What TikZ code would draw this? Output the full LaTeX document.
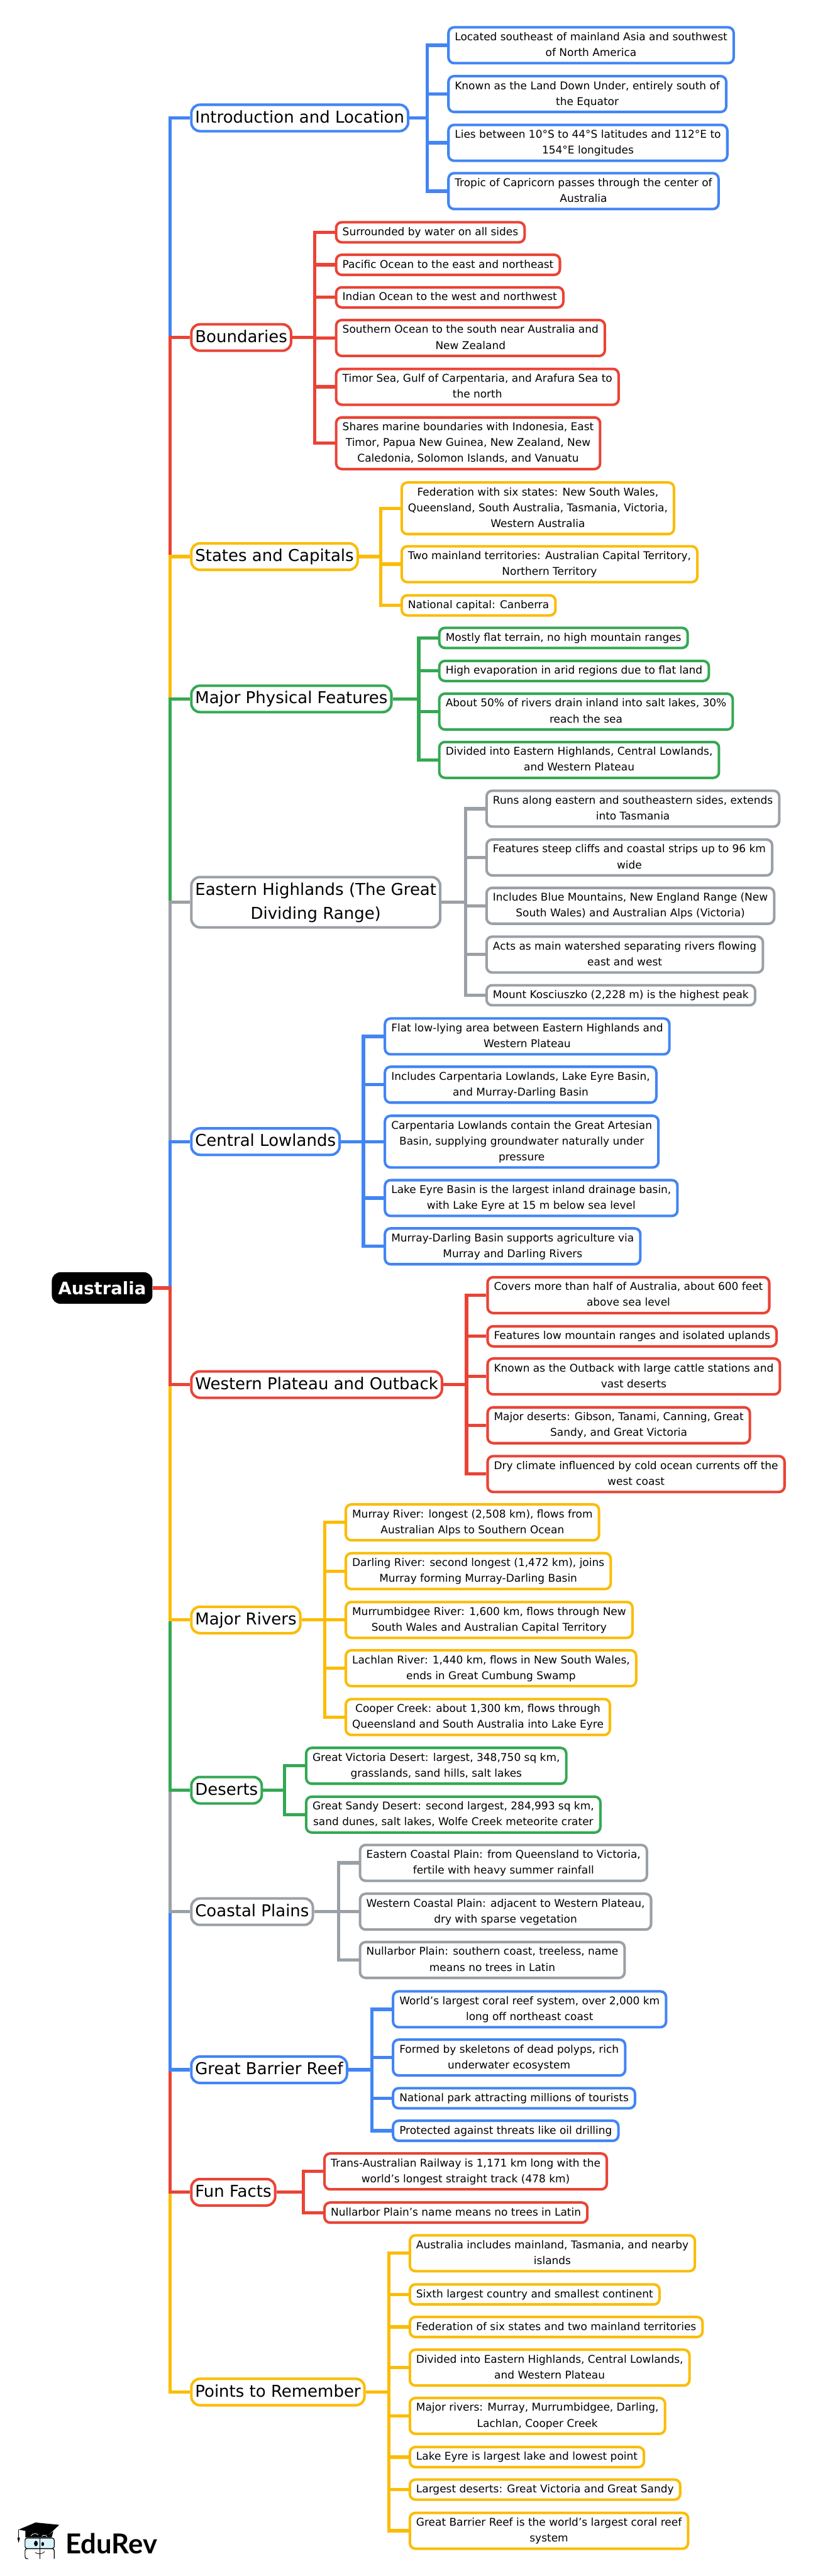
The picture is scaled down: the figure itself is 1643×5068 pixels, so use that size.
\documentclass[tikz,border=0pt]{standalone}
\usepackage{fontspec}
\setmainfont{DejaVu Sans}
\newfontfamily\logofont{Lato}
\definecolor{gblue}{HTML}{4285F4}
\definecolor{gred}{HTML}{EA4335}
\definecolor{gyellow}{HTML}{FBBC04}
\definecolor{ggreen}{HTML}{34A853}
\definecolor{ggray}{HTML}{9AA0A6}
\tikzset{
    leaf/.style={draw=#1, anchor=west, fill=white, align=center, line width=5pt, rounded corners=11pt,
        font=\fontsize{21}{31}\selectfont, inner xsep=12.5pt, inner ysep=4.25pt},
    topic/.style={draw=#1, anchor=west, fill=white, align=center, line width=5pt, rounded corners=17pt,
        font=\fontsize{32.15}{47}\selectfont, inner xsep=7.5pt, inner ysep=2.5pt},
    link/.style={draw=#1, line width=6.5pt}
}
\begin{document}
\begin{tikzpicture}[x=1pt, y=-1pt]
\useasboundingbox (0,0) rectangle (1643,5068);
\node[fill=black, text=white, rounded corners=17pt, minimum height=62pt, inner xsep=12.5pt, inner ysep=0pt,
    font=\fontsize{34}{42}\selectfont\bfseries] (root) at (201,2534) {Australia};
\coordinate (trunk) at (335,2534);
\foreach \yy/\nm/\col/\txt in {
    232/intro/gblue/{Introduction and Location},
    664/bounds/gred/{Boundaries},
    1095/states/gyellow/{States and Capitals},
    1375/physical/ggreen/{Major Physical Features},
    1775/eastern/ggray/{Eastern Highlands (The Great\\Dividing Range)},
    2246/central/gblue/{Central Lowlands},
    2724/western/gred/{Western Plateau and Outback},
    3187/rivers/gyellow/{Major Rivers},
    3522/deserts/ggreen/{Deserts},
    3761/coastal/ggray/{Coastal Plains},
    4072/reef/gblue/{Great Barrier Reef},
    4313/facts/gred/{Fun Facts},
    4706/points/gyellow/{Points to Remember}}
    \node[topic=\col] (\nm) at (374,\yy) {\strut\txt\strut};
\foreach \nm/\col in {intro/gblue, bounds/gred, states/gyellow, physical/ggreen, eastern/ggray, central/gblue,
    points/gyellow, facts/gred, reef/gblue, coastal/ggray, deserts/ggreen, rivers/gyellow, western/gred}
    \draw[link=\col] (root.east) -- (trunk) |- (\nm.west);
\coordinate (introspine) at (841,232);
\foreach \yy/\nm/\txt in {
    89/intro1/{Located southeast of mainland Asia and southwest\\of North America},
    185/intro2/{Known as the Land Down Under, entirely south of\\the Equator},
    281/intro3/{Lies between 10°S to 44°S latitudes and 112°E to\\154°E longitudes},
    376/intro4/{Tropic of Capricorn passes through the center of\\Australia}}{
    \node[leaf=gblue] (\nm) at (880,\yy) {\strut\txt\strut};
    \draw[link=gblue] (intro.east) -- (introspine) |- (\nm.west);
}
\coordinate (boundsspine) at (619,664);
\foreach \yy/\nm/\txt in {
    457/bounds1/{Surrounded by water on all sides},
    521/bounds2/{Pacific Ocean to the east and northeast},
    585/bounds3/{Indian Ocean to the west and northwest},
    665/bounds4/{Southern Ocean to the south near Australia and\\New Zealand},
    761/bounds5/{Timor Sea, Gulf of Carpentaria, and Arafura Sea to\\the north},
    872/bounds6/{Shares marine boundaries with Indonesia, East\\Timor, Papua New Guinea, New Zealand, New\\Caledonia, Solomon Islands, and Vanuatu}}{
    \node[leaf=gred] (\nm) at (659,\yy) {\strut\txt\strut};
    \draw[link=gred] (bounds.east) -- (boundsspine) |- (\nm.west);
}
\coordinate (statesspine) at (749,1095);
\foreach \yy/\nm/\txt in {
    1000/states1/{Federation with six states: New South Wales,\\Queensland, South Australia, Tasmania, Victoria,\\Western Australia},
    1110/states2/{Two mainland territories: Australian Capital Territory,\\Northern Territory},
    1191/states3/{National capital: Canberra}}{
    \node[leaf=gyellow] (\nm) at (788,\yy) {\strut\txt\strut};
    \draw[link=gyellow] (states.east) -- (statesspine) |- (\nm.west);
}
\coordinate (physicalspine) at (824,1375);
\foreach \yy/\nm/\txt in {
    1255/physical1/{Mostly flat terrain, no high mountain ranges},
    1320/physical2/{High evaporation in arid regions due to flat land},
    1400/physical3/{About 50\% of rivers drain inland into salt lakes, 30\%\\reach the sea},
    1495/physical4/{Divided into Eastern Highlands, Central Lowlands,\\and Western Plateau}}{
    \node[leaf=ggreen] (\nm) at (862,\yy) {\strut\txt\strut};
    \draw[link=ggreen] (physical.east) -- (physicalspine) |- (\nm.west);
}
\coordinate (easternspine) at (916,1775);
\foreach \yy/\nm/\txt in {
    1591/eastern1/{Runs along eastern and southeastern sides, extends\\into Tasmania},
    1687/eastern2/{Features steep cliffs and coastal strips up to 96 km\\wide},
    1782/eastern3/{Includes Blue Mountains, New England Range (New\\South Wales) and Australian Alps (Victoria)},
    1878/eastern4/{Acts as main watershed separating rivers flowing\\east and west},
    1958/eastern5/{Mount Kosciuszko (2,228 m) is the highest peak}}{
    \node[leaf=ggray] (\nm) at (955,\yy) {\strut\txt\strut};
    \draw[link=ggray] (eastern.east) -- (easternspine) |- (\nm.west);
}
\coordinate (centralspine) at (715,2246);
\foreach \yy/\nm/\txt in {
    2039/central1/{Flat low-lying area between Eastern Highlands and\\Western Plateau},
    2134/central2/{Includes Carpentaria Lowlands, Lake Eyre Basin,\\and Murray-Darling Basin},
    2246/central3/{Carpentaria Lowlands contain the Great Artesian\\Basin, supplying groundwater naturally under\\pressure},
    2357/central4/{Lake Eyre Basin is the largest inland drainage basin,\\with Lake Eyre at 15 m below sea level},
    2452/central5/{Murray-Darling Basin supports agriculture via\\Murray and Darling Rivers}}{
    \node[leaf=gblue] (\nm) at (755,\yy) {\strut\txt\strut};
    \draw[link=gblue] (central.east) -- (centralspine) |- (\nm.west);
}
\coordinate (westernspine) at (918,2724);
\foreach \yy/\nm/\txt in {
    2548/western1/{Covers more than half of Australia, about 600 feet\\above sea level},
    2629/western2/{Features low mountain ranges and isolated uplands},
    2708/western3/{Known as the Outback with large cattle stations and\\vast deserts},
    2804/western4/{Major deserts: Gibson, Tanami, Canning, Great\\Sandy, and Great Victoria},
    2900/western5/{Dry climate influenced by cold ocean currents off the\\west coast}}{
    \node[leaf=gred] (\nm) at (957,\yy) {\strut\txt\strut};
    \draw[link=gred] (western.east) -- (westernspine) |- (\nm.west);
}
\coordinate (riversspine) at (639,3187);
\foreach \yy/\nm/\txt in {
    2995/rivers1/{Murray River: longest (2,508 km), flows from\\Australian Alps to Southern Ocean},
    3091/rivers2/{Darling River: second longest (1,472 km), joins\\Murray forming Murray-Darling Basin},
    3187/rivers3/{Murrumbidgee River: 1,600 km, flows through New\\South Wales and Australian Capital Territory},
    3282/rivers4/{Lachlan River: 1,440 km, flows in New South Wales,\\ends in Great Cumbung Swamp},
    3378/rivers5/{Cooper Creek: about 1,300 km, flows through\\Queensland and South Australia into Lake Eyre}}{
    \node[leaf=gyellow] (\nm) at (678,\yy) {\strut\txt\strut};
    \draw[link=gyellow] (rivers.east) -- (riversspine) |- (\nm.west);
}
\coordinate (desertsspine) at (560,3522);
\foreach \yy/\nm/\txt in {
    3474/deserts1/{Great Victoria Desert: largest, 348,750 sq km,\\grasslands, sand hills, salt lakes},
    3570/deserts2/{Great Sandy Desert: second largest, 284,993 sq km,\\sand dunes, salt lakes, Wolfe Creek meteorite crater}}{
    \node[leaf=ggreen] (\nm) at (600,\yy) {\strut\txt\strut};
    \draw[link=ggreen] (deserts.east) -- (desertsspine) |- (\nm.west);
}
\coordinate (coastalspine) at (666,3761);
\foreach \yy/\nm/\txt in {
    3665/coastal1/{Eastern Coastal Plain: from Queensland to Victoria,\\fertile with heavy summer rainfall},
    3761/coastal2/{Western Coastal Plain: adjacent to Western Plateau,\\dry with sparse vegetation},
    3856/coastal3/{Nullarbor Plain: southern coast, treeless, name\\means no trees in Latin}}{
    \node[leaf=ggray] (\nm) at (706,\yy) {\strut\txt\strut};
    \draw[link=ggray] (coastal.east) -- (coastalspine) |- (\nm.west);
}
\coordinate (reefspine) at (732,4072);
\foreach \yy/\nm/\txt in {
    3953/reef1/{World’s largest coral reef system, over 2,000 km\\long off northeast coast},
    4048/reef2/{Formed by skeletons of dead polyps, rich\\underwater ecosystem},
    4128/reef3/{National park attracting millions of tourists},
    4192/reef4/{Protected against threats like oil drilling}}{
    \node[leaf=gblue] (\nm) at (771,\yy) {\strut\txt\strut};
    \draw[link=gblue] (reef.east) -- (reefspine) |- (\nm.west);
}
\coordinate (factsspine) at (597,4313);
\foreach \yy/\nm/\txt in {
    4272/facts1/{Trans-Australian Railway is 1,171 km long with the\\world’s longest straight track (478 km)},
    4353/facts2/{Nullarbor Plain’s name means no trees in Latin}}{
    \node[leaf=gred] (\nm) at (636,\yy) {\strut\txt\strut};
    \draw[link=gred] (facts.east) -- (factsspine) |- (\nm.west);
}
\coordinate (pointsspine) at (765,4706);
\foreach \yy/\nm/\txt in {
    4433/points1/{Australia includes mainland, Tasmania, and nearby\\islands},
    4514/points2/{Sixth largest country and smallest continent},
    4578/points3/{Federation of six states and two mainland territories},
    4658/points4/{Divided into Eastern Highlands, Central Lowlands,\\and Western Plateau},
    4753/points5/{Major rivers: Murray, Murrumbidgee, Darling,\\Lachlan, Cooper Creek},
    4834/points6/{Lake Eyre is largest lake and lowest point},
    4898/points7/{Largest deserts: Great Victoria and Great Sandy},
    4979/points8/{Great Barrier Reef is the world’s largest coral reef\\system}}{
    \node[leaf=gyellow] (\nm) at (804,\yy) {\strut\txt\strut};
    \draw[link=gyellow] (points.east) -- (pointsspine) |- (\nm.west);
}
\node[anchor=base west, inner sep=0pt, font=\fontsize{54}{60}\selectfont\logofont\bfseries] (edurev) at (129,5024) {EduRev};
\begin{scope}[shift={(20,4960)}, x=0.3333pt, y=-0.3333pt]
    \fill (50,50) -- (150,8) -- (290,22) -- (225,83) -- cycle;
    \fill (90,57) -- (90,96) -- (245,96) -- (255,60) -- (225,83) -- cycle;
    \draw[line width=1pt] (50,50) -- (50,100);
    \fill (42,98) -- (58,98) -- (50,128) -- cycle;
    \draw[white, line width=1pt] (122,87) .. controls (135,70) and (155,70) .. (165,82);
    \draw[white, line width=1pt] (187,90) .. controls (195,80) and (210,82) .. (218,92);
    \draw[fill=cyan!15, line width=1.5pt, rounded corners=4pt] (88,100) rectangle (260,162);
    \draw[line width=1.5pt, rounded corners=4pt] (100,222) -- (88,222) -- (88,162) -- (260,162) -- (260,222);
    \draw[line width=1.2pt] (175,98) -- (175,224);
    \fill (152,132) ellipse [x radius=11, y radius=16];
    \fill (192,135) ellipse [x radius=8, y radius=12];
    \draw[line width=1pt] (148,185) .. controls (165,198) and (190,195) .. (203,180);
\end{scope}
\end{tikzpicture}
\end{document}
